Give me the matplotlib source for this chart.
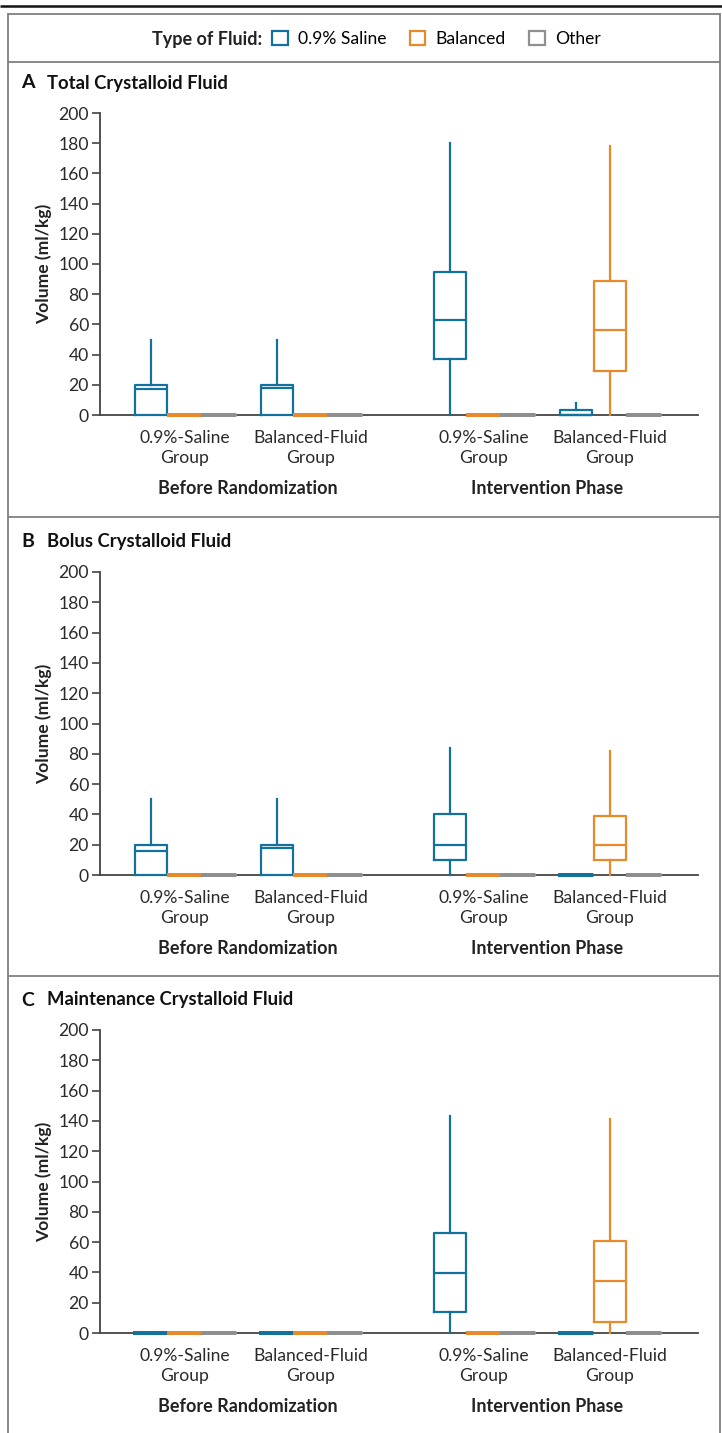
import matplotlib
matplotlib.use("Agg")
import matplotlib.pyplot as plt
from matplotlib.lines import Line2D
from matplotlib.patches import Patch

plt.rcParams['font.family'] = ['Lato', 'DejaVu Sans']

# ---------------- data ----------------
fluids = ["0.9% Saline", "Balanced", "Other"]
group_labels = ["0.9%-Saline\nGroup", "Balanced-Fluid\nGroup",
                "0.9%-Saline\nGroup", "Balanced-Fluid\nGroup"]
phase_labels = ["Before Randomization", "Intervention Phase"]
panel_letters = ["A", "B", "C"]
panel_titles = ["Total Crystalloid Fluid", "Bolus Crystalloid Fluid",
                "Maintenance Crystalloid Fluid"]
yticks = [0, 20, 40, 60, 80, 100, 120, 140, 160, 180, 200]

# each entry: [whisker low, q1, median, q3, whisker high] for the 4 groups
total_saline = [[0, 0, 17, 20, 50], [0, 0, 18, 20, 50],
                [0, 37, 63, 95, 180], [0, 0, 0, 3, 8]]
total_balanced = [[0, 0, 0, 0, 0], [0, 0, 0, 0, 0],
                  [0, 0, 0, 0, 0], [0, 29, 56, 89, 178]]
total_other = [[0, 0, 0, 0, 0]] * 4

bolus_saline = [[0, 0, 16, 20, 50], [0, 0, 18, 20, 50],
                [0, 10, 20, 40, 84], [0, 0, 0, 0, 0]]
bolus_balanced = [[0, 0, 0, 0, 0], [0, 0, 0, 0, 0],
                  [0, 0, 0, 0, 0], [0, 10, 20, 39, 82]]
bolus_other = [[0, 0, 0, 0, 0]] * 4

maint_saline = [[0, 0, 0, 0, 0], [0, 0, 0, 0, 0],
                [0, 14, 39.5, 66, 143], [0, 0, 0, 0, 0]]
maint_balanced = [[0, 0, 0, 0, 0], [0, 0, 0, 0, 0],
                  [0, 0, 0, 0, 0], [0, 7, 34, 61, 141]]
maint_other = [[0, 0, 0, 0, 0]] * 4

panels = [(total_saline, total_balanced, total_other),
          (bolus_saline, bolus_balanced, bolus_other),
          (maint_saline, maint_balanced, maint_other)]

# ---------------- style / layout ----------------
colors = ["#13719e", "#e8892b", "#8f8f8f"]
W, H = 722, 1433
fig = plt.figure(figsize=(W / 100, H / 100), dpi=100)

group_centers = [2.5, 6.2, 11.3, 15.0]
offsets = [-1.0, 0.0, 1.0]
box_w = 0.94

# (y pixel of 0, y pixel of 200, title y pixel)
panel_px = [(415, 113, 83), (875, 572, 541), (1333, 1030, 1000)]
ax_left, ax_right = 100, 698
FS = 12.6

for p, (stats_sets, (y0, y200, ty)) in enumerate(zip(panels, panel_px)):
    ax = fig.add_axes([ax_left / W, 1 - y0 / H, (ax_right - ax_left) / W,
                       (y0 - y200) / H])
    for k, stats_list in enumerate(stats_sets):
        for g, s in enumerate(stats_list):
            lo, q1, med, q3, hi = s
            st = dict(whislo=lo, q1=q1, med=med, q3=q3, whishi=hi, fliers=[])
            zero = (q3 - q1) == 0 and hi == lo
            lw = 2.8 if zero else 1.6
            pos = group_centers[g] + offsets[k]
            ax.bxp([st], positions=[pos], widths=box_w, showcaps=False,
                   showfliers=False,
                   boxprops=dict(color=colors[k], linewidth=lw, clip_on=False),
                   medianprops=dict(color=colors[k], linewidth=lw,
                                    solid_capstyle='butt', clip_on=False),
                   whiskerprops=dict(color=colors[k], linewidth=1.6,
                                     clip_on=False),
                   manage_ticks=False, zorder=3)
    ax.set_xlim(0, 17.6)
    ax.set_ylim(0, 200)
    for sp in ["top", "right"]:
        ax.spines[sp].set_visible(False)
    ax.spines["left"].set_color("#444444")
    ax.spines["bottom"].set_color("#444444")
    ax.spines["left"].set_linewidth(1.3)
    ax.spines["bottom"].set_linewidth(1.3)
    ax.set_yticks(yticks)
    ax.tick_params(axis='y', direction='out', length=6, width=1.2,
                   colors="#444444", labelcolor="#2a2a2a", labelsize=FS, pad=2)
    ax.set_xticks(group_centers)
    ax.set_xticklabels(group_labels, fontsize=FS, color="#2a2a2a",
                       linespacing=1.25)
    ax.tick_params(axis='x', length=0, pad=11)
    ax.set_ylabel("Volume (ml/kg)", fontsize=FS, fontweight='bold',
                  color="#222222")
    ax.yaxis.set_label_coords(-0.08, 0.5)
    ph_y = -74 / (y0 - y200)
    ax.text((group_centers[0] + group_centers[1]) / 2, ph_y, phase_labels[0],
            transform=ax.get_xaxis_transform(), ha='center', va='center',
            fontsize=13, fontweight='bold', color="#222222")
    ax.text((group_centers[2] + group_centers[3]) / 2, ph_y, phase_labels[1],
            transform=ax.get_xaxis_transform(), ha='center', va='center',
            fontsize=13, fontweight='bold', color="#222222")
    fig.text(21 / W, 1 - ty / H, panel_letters[p], fontsize=14,
             fontweight='bold', va='center', ha='left', color="#111111")
    fig.text(47 / W, 1 - ty / H, panel_titles[p], fontsize=13.3,
             fontweight='bold', va='center', ha='left', color="#111111")

# ---------------- frame ----------------
def fline(x0, y0, x1, y1, color, lw):
    fig.add_artist(Line2D([x0 / W, x1 / W], [1 - y0 / H, 1 - y1 / H],
                          transform=fig.transFigure, color=color, linewidth=lw,
                          solid_capstyle='butt'))

fline(0, 6, W, 6, "#111111", 1.8)
fline(8, 13.5, 720, 13.5, "#808080", 1.3)
fline(8, 13, 8, H, "#808080", 1.3)
fline(720, 13, 720, H, "#808080", 1.3)
for yy in [62, 517, 976]:
    fline(8, yy, 720, yy, "#808080", 1.3)

# ---------------- legend ----------------
fig.text(262 / W, 1 - 39 / H, "Type of Fluid:", fontsize=13,
         fontweight='bold', ha='right', va='center', color="#222222")
handles = [Patch(facecolor='white', edgecolor=c, linewidth=1.6) for c in colors]
fig.legend(handles, fluids, loc='center left', bbox_to_anchor=(272 / W, 1 - 39 / H),
           ncol=3, frameon=False, fontsize=FS, handlelength=0.9,
           handleheight=0.9, handletextpad=0.6, columnspacing=1.3,
           borderaxespad=0, borderpad=0)

fig.savefig("out.png", dpi=100)
